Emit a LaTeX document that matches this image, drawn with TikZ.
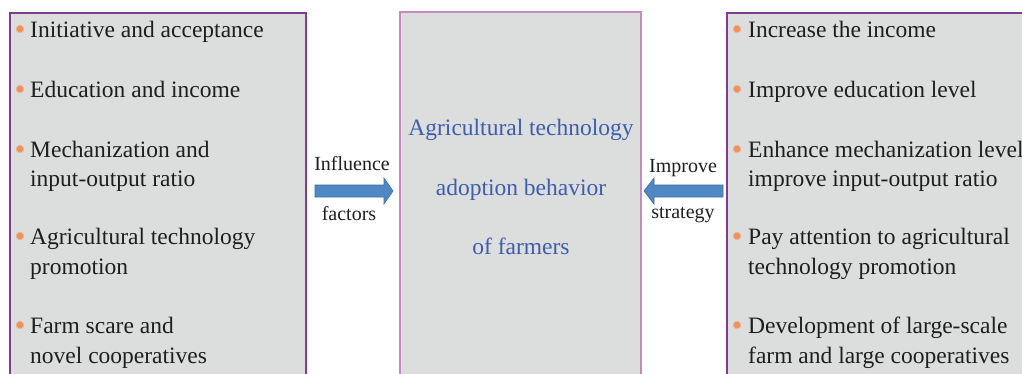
\documentclass[tikz,border=0pt]{standalone}
\usepackage{fontspec}
\setmainfont{Liberation Serif}
\usetikzlibrary{shapes.geometric}
\definecolor{boxfill}{HTML}{DCDDDD}
\definecolor{sideborder}{HTML}{7E3D8E}
\definecolor{midborder}{HTML}{C58AC5}
\definecolor{txt}{HTML}{1E1E1E}
\definecolor{bluetxt}{HTML}{3D5DAE}
\definecolor{arrowfill}{HTML}{5088C4}
\definecolor{arrowline}{HTML}{3D6DA0}
\definecolor{bulletc}{HTML}{F2925A}
\tikzset{
  sidebox/.style={draw=sideborder, fill=boxfill, line width=1.5pt},
  midbox/.style={draw=midborder, fill=boxfill, line width=1.5pt},
  item/.style={anchor=base west, inner sep=0pt, text=txt, font=\fontsize{23.5}{28}\selectfont},
  midtext/.style={anchor=base, inner sep=0pt, text=bluetxt, font=\fontsize{23.5}{28}\selectfont},
  lbl/.style={anchor=base, inner sep=0pt, text=txt, font=\fontsize{20}{24}\selectfont},
  bul/.style={star, star points=12, star point ratio=1.6, fill=bulletc, inner sep=0pt, minimum size=9pt},
  blockarrow/.style={fill=arrowfill, draw=arrowline, line width=0.6pt, line join=miter}
}
\begin{document}
\begin{tikzpicture}[x=1pt, y=-1pt]
\useasboundingbox (0,0) rectangle (1022,373);
\clip (0,0) rectangle (1022,373);
% boxes
\draw[sidebox] (10,13) rectangle (306,390);
\draw[midbox] (400,12) rectangle (641,390);
\draw[sidebox] (727,13) rectangle (1040,390);
% left items
\node[bul] (lb1) at (20,29) {};
\node[item] (l1) at (30,37) {Initiative and acceptance};
\node[bul] (lb2) at (20,89) {};
\node[item] (l2) at (30,97) {Education and income};
\node[bul] (lb3) at (20,149) {};
\node[item] (l3a) at (30,157) {Mechanization and};
\node[item] (l3b) at (30,186) {input-output ratio};
\node[bul] (lb4) at (20,236) {};
\node[item] (l4a) at (30,244) {Agricultural technology};
\node[item] (l4b) at (30,274) {promotion};
\node[bul] (lb5) at (20,325) {};
\node[item] (l5a) at (30,333) {Farm scare and};
\node[item] (l5b) at (30,363) {novel cooperatives};
% middle
\node[midtext] (m1) at (521,135) {Agricultural technology};
\node[midtext] (m2) at (521,195) {adoption behavior};
\node[midtext] (m3) at (521,254) {of farmers};
% right items
\node[bul] (rb1) at (737,29) {};
\node[item] (r1) at (748,37) {Increase the income};
\node[bul] (rb2) at (737,89) {};
\node[item] (r2) at (748,97) {Improve education level};
\node[bul] (rb3) at (737,149) {};
\node[item] (r3a) at (748,157) {Enhance mechanization level,};
\node[item] (r3b) at (748,186) {improve input-output ratio};
\node[bul] (rb4) at (737,236) {};
\node[item] (r4a) at (748,244) {Pay attention to agricultural};
\node[item] (r4b) at (748,274) {technology promotion};
\node[bul] (rb5) at (737,325) {};
\node[item] (r5a) at (748,333) {Development of large-scale};
\node[item] (r5b) at (748,363) {farm and large cooperatives};
% arrows
\draw[blockarrow] (315,185) -- (384,185) -- (384,178) -- (393,191) -- (384,204) -- (384,197) -- (315,197) -- cycle;
\draw[blockarrow] (723,185) -- (654,185) -- (654,178) -- (644,191) -- (654,204) -- (654,197) -- (723,197) -- cycle;
\node[lbl] (inf) at (352,170) {Influence};
\node[lbl] (fac) at (349,220) {factors};
\node[lbl] (imp) at (683,172) {Improve};
\node[lbl] (str) at (683,218) {strategy};
\end{tikzpicture}
\end{document}
